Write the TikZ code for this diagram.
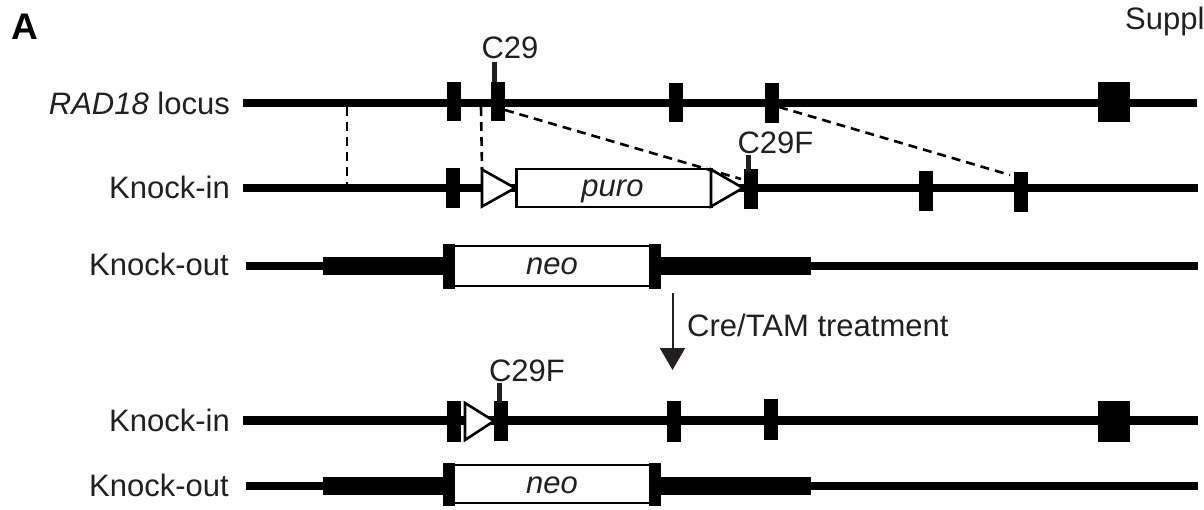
\documentclass[tikz,border=0pt]{standalone}
\usepackage{fontspec}
\setmainfont{Liberation Sans}
\usetikzlibrary{arrows.meta}
\definecolor{ink}{RGB}{35,31,32}
\begin{document}
\begin{tikzpicture}[x=1pt,y=-1pt,
  lbl/.style={font=\fontsize{31}{31}\selectfont, text=ink, inner sep=0pt},
  exon/.style={fill=black, draw=none, inner sep=0pt, minimum width=14pt, minimum height=40pt},
  bigexon/.style={exon, minimum width=32pt},
  chrom/.style={line width=8.5pt, draw=black},
  arm/.style={line width=18pt, draw=black},
  capbar/.style={fill=black, draw=none, inner sep=0pt, minimum width=12pt, minimum height=43pt},
  cassette/.style={draw=black, line width=2.6pt, fill=white, inner sep=0pt, minimum height=38pt},
  loxp/.style={draw=black, line width=2.6pt, fill=white, line join=miter},
  dashln/.style={line width=2.6pt, draw=black, dash pattern=on 9pt off 6pt},
  tickln/.style={line width=5pt, draw=ink},
]
\useasboundingbox (0,0) rectangle (1204,509);

% panel letter and header
\node[lbl, font=\fontsize{37}{37}\selectfont\bfseries, anchor=base west, text=black] (A) at (11,39) {A};
\node[lbl, anchor=base west] (suppl) at (1125,29) {Suppl};

% ---------- Row 1: RAD18 locus ----------
\node[lbl, anchor=base east] (l1) at (230,114) {\textit{RAD18} locus};
\coordinate (r1s) at (243,103);
\coordinate (r1e) at (1197,103);
\draw[chrom] (r1s) -- (r1e);
\node[exon, minimum height=39pt] (e11) at (453.5,101.5) {};
\node[exon, minimum height=39pt] (e12) at (498,101.5) {};
\node[exon, minimum height=39pt] (e13) at (675.5,102.5) {};
\node[exon, minimum height=40pt] (e14) at (771.5,103) {};
\node[bigexon, minimum height=40pt] (e15) at (1114,102) {};
\coordinate (t1a) at (494.5,62);
\coordinate (t1b) at (494.5,82);
\draw[tickln] (t1a) -- (t1b);
\node[lbl, anchor=base] (c29) at (510,58) {C29};

% ---------- Row 2: Knock-in ----------
\node[lbl, anchor=base east] (l2) at (230,198) {Knock-in};
\coordinate (r2s) at (243,188);
\coordinate (r2e) at (1198,188);
\draw[chrom] (r2s) -- (r2e);
\node[exon] (e21) at (453,188) {};
\draw[loxp] (482,169.5) coordinate (p1a) -- (515,188) coordinate (p1t) -- (482,206.5) coordinate (p1b) -- cycle;
\node[cassette, minimum width=195pt, anchor=west] (puro) at (515,188) {};
\node[lbl, anchor=base] at (612.5,196) {\textit{puro}};
\draw[loxp] (711,169.5) coordinate (p2a) -- (743,188) coordinate (p2t) -- (711,206.5) coordinate (p2b) -- cycle;
\node[exon] (e22) at (750.5,189) {};
\node[exon] (e23) at (925.5,191) {};
\node[exon] (e24) at (1021,192) {};
\coordinate (t2a) at (748,155);
\coordinate (t2b) at (748,172);
\draw[tickln] (t2a) -- (t2b);
\node[lbl, anchor=base] (c29f1) at (775.5,153) {C29F};

% homology dashed lines
\coordinate (d1a) at (347,107);
\coordinate (d1b) at (347,184);
\draw[dashln] (d1a) -- (d1b);
\coordinate (d2a) at (481,107);
\draw[dashln] (d2a) -- (p1a);
\coordinate (d3a) at (505,110);
\coordinate (d3b) at (741,179);
\draw[dashln] (d3a) -- (d3b);
\coordinate (d4a) at (779,107);
\coordinate (d4b) at (1010,175);
\draw[dashln] (d4a) -- (d4b);

% ---------- Row 3: Knock-out ----------
\node[lbl, anchor=base east] (l3) at (229,275) {Knock-out};
\coordinate (r3s) at (246,266);
\coordinate (r3e) at (1198,266);
\draw[chrom] (r3s) -- (r3e);
\coordinate (a3l) at (323,266);
\coordinate (a3m) at (445,266);
\coordinate (a3n) at (659,266);
\coordinate (a3r) at (811,266);
\draw[arm] (a3l) -- (a3m);
\draw[arm] (a3n) -- (a3r);
\node[cassette, minimum width=196pt, minimum height=40pt] (neo1) at (552,266) {};
\node[capbar, minimum height=45pt] (c3l) at (449,266) {};
\node[capbar, minimum height=45pt] (c3r) at (655,266) {};
\node[lbl, anchor=base] at (552,274) {\textit{neo}};

% ---------- Cre/TAM arrow ----------
\coordinate (arA) at (672.5,293);
\coordinate (arB) at (672.5,370);
\draw[line width=2pt, draw=ink, -{Triangle[width=25pt,length=22pt]}] (arA) -- (arB);
\node[lbl, anchor=base west] (cre) at (687,336) {Cre/TAM treatment};

% ---------- Row 4: Knock-in after Cre ----------
\node[lbl, anchor=base east] (l4) at (230,431) {Knock-in};
\coordinate (r4s) at (243,420.5);
\coordinate (r4e) at (1198,420.5);
\draw[chrom] (r4s) -- (r4e);
\node[exon, minimum height=41pt] (e41) at (454,421.5) {};
\draw[loxp] (465,403) coordinate (p3a) -- (494,421) coordinate (p3t) -- (465,440) coordinate (p3b) -- cycle;
\node[exon] (e42) at (500.5,421) {};
\node[exon, minimum height=41pt] (e43) at (674,421) {};
\node[exon, minimum height=41pt] (e44) at (770.5,419.5) {};
\node[bigexon, minimum height=41pt] (e45) at (1114,421) {};
\coordinate (t4a) at (499.5,383);
\coordinate (t4b) at (499.5,403);
\draw[tickln] (t4a) -- (t4b);
\node[lbl, anchor=base] (c29f2) at (527,381) {C29F};

% ---------- Row 5: Knock-out ----------
\node[lbl, anchor=base east] (l5) at (229,496) {Knock-out};
\coordinate (r5s) at (246,486);
\coordinate (r5e) at (1198,486);
\draw[chrom] (r5s) -- (r5e);
\coordinate (a5l) at (323,486);
\coordinate (a5m) at (445,486);
\coordinate (a5n) at (659,486);
\coordinate (a5r) at (811,486);
\draw[arm] (a5l) -- (a5m);
\draw[arm] (a5n) -- (a5r);
\node[cassette, minimum width=196pt, minimum height=38pt] (neo2) at (552,484) {};
\node[capbar, minimum height=43pt] (c5l) at (449,484) {};
\node[capbar, minimum height=43pt] (c5r) at (655,484) {};
\node[lbl, anchor=base] at (552,493) {\textit{neo}};
\end{tikzpicture}
\end{document}
